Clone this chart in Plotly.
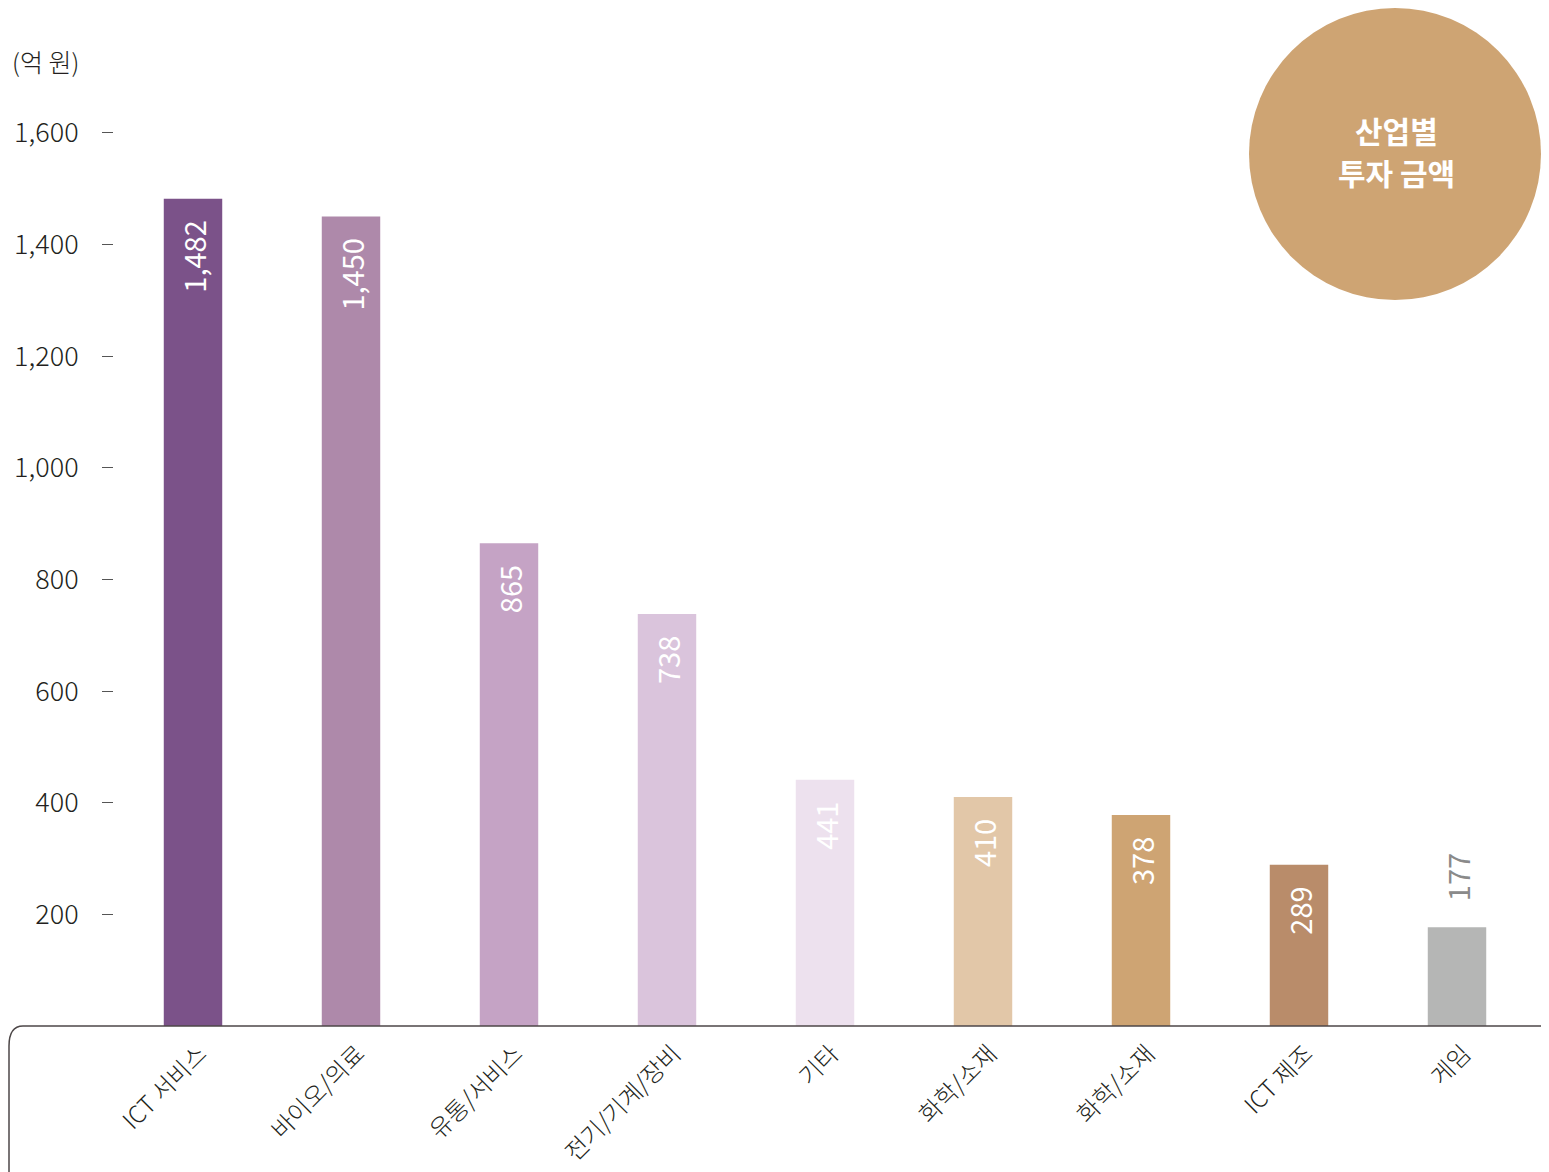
import plotly.graph_objects as go

categories = ["ICT 서비스", "바이오/의료", "유통/서비스", "전기/기계/장비", "기타",
              "화학/소재", "화학/소재", "ICT 제조", "게임"]
values = [1482, 1450, 865, 738, 441, 410, 378, 289, 177]
bar_colors = ["#7b5289", "#ae89aa", "#c5a3c5", "#dac4dc", "#ede1ee",
              "#e2c7a8", "#cea473", "#b98c6a", "#b5b6b5"]
label_inside = [True, True, True, True, True, True, True, True, False]
y_ticks = [200, 400, 600, 800, 1000, 1200, 1400, 1600]
unit_label = "(억 원)"
badge_lines = ["산업별", "투자 금액"]

FONT = "Noto Sans CJK KR, Noto Sans, sans-serif"
OFF = 8  # page body margin
W, H = 1549 - OFF, 1172 - OFF
L, R, T = 114 - OFF, 13, 77 - OFF
B = H - (1026 - OFF)
PW, PH = W - L - R, H - T - B


def px(x):
    """reference page x -> paper x"""
    return (x - OFF - L) / PW


def py(y):
    """reference page y -> paper y"""
    return (H - B - (y - OFF)) / PH


xs = list(range(len(categories)))

fig = go.Figure()
fig.add_trace(go.Bar(
    x=xs, y=values, width=0.37,
    marker=dict(color=bar_colors, line=dict(width=0)),
    hoverinfo="skip",
))

for xi, v, inside in zip(xs, values, label_inside):
    fig.add_annotation(
        x=xi, y=v, xref="x", yref="y",
        text=f"{v:,}", textangle=-90, showarrow=False,
        yanchor="top" if inside else "bottom",
        yshift=-20 if inside else 24,
        font=dict(family=FONT, size=29, color="#ffffff" if inside else "#8a8a8a", weight=400),
    )

# frame: baseline with rounded corner down the left side
x_left, x_corner, x_right = (1 - L) / PW, px(23), px(1542)
y_base, y_corner, y_bot = py(1026), py(1046), py(1185)
fig.add_shape(
    type="path", xref="paper", yref="paper",
    path=f"M {x_left},{y_bot} L {x_left},{y_corner} Q {x_left},{y_base} {x_corner},{y_base} L {x_right},{y_base}",
    line=dict(color="#4d4748", width=1.5),
)

# badge circle
fig.add_shape(
    type="circle", xref="paper", yref="paper",
    x0=px(1249), x1=px(1541), y0=py(300), y1=py(8),
    fillcolor="#cea473", line=dict(width=0), layer="above",
)
for line_text, yc in zip(badge_lines, [130, 172]):
    fig.add_annotation(
        x=px(1396), y=py(yc), xref="paper", yref="paper", text=line_text,
        showarrow=False, align="center", xanchor="center", yanchor="middle",
        font=dict(family=FONT, size=30, color="#ffffff", weight="bold"),
    )

fig.add_annotation(
    x=px(10), y=py(61), xref="paper", yref="paper", text=unit_label,
    showarrow=False, xanchor="left", yanchor="middle",
    font=dict(family=FONT, size=25, color="#231f20", weight=300),
)

fig.update_layout(
    width=W, height=H,
    margin=dict(l=L, r=R, t=T, b=B, pad=0, autoexpand=False),
    paper_bgcolor="#ffffff", plot_bgcolor="#ffffff",
    showlegend=False,
    font=dict(family=FONT, color="#231f20"),
)
fig.update_xaxes(
    range=[-0.5, len(categories) - 0.5], automargin=False,
    tickmode="array", tickvals=xs, ticktext=categories,
    tickangle=-45, ticks="", showgrid=False, zeroline=False, showline=False,
    tickfont=dict(family=FONT, size=24, color="#231f20", weight=300),
    ticklabelstandoff=8, ticklabelshift=7,
)
fig.update_yaxes(
    range=[0, 1700], tickmode="array", tickvals=y_ticks, automargin=False,
    tickformat=",", ticks="outside", ticklen=11, tickcolor="#555555", tickwidth=1,
    showgrid=False, zeroline=False, showline=False,
    tickfont=dict(family=FONT, size=27, color="#231f20", weight=300),
    ticklabelstandoff=18,
)

fig.write_html("out.html")
